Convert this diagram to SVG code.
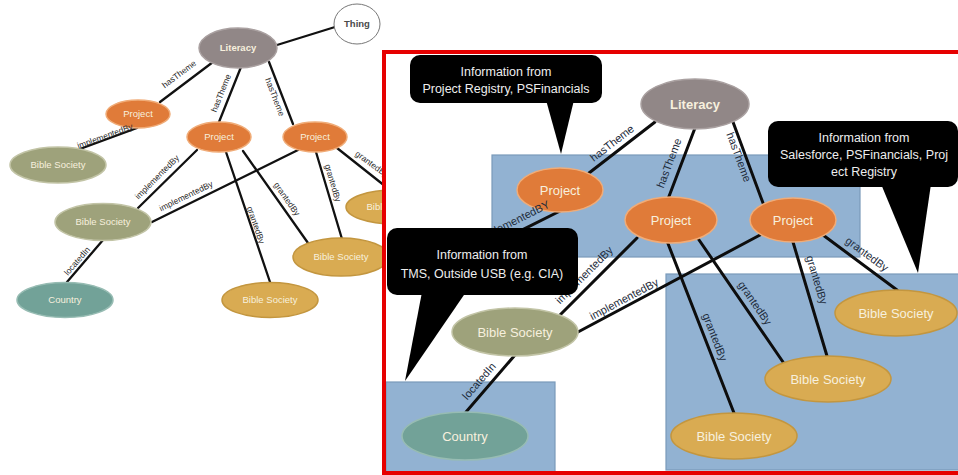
<svg xmlns="http://www.w3.org/2000/svg" width="958" height="475" viewBox="0 0 958 475">
<style>
.ls{stroke:#111;stroke-width:2.3;fill:none;stroke-linecap:round}
.lb{stroke:#0d0d0d;stroke-width:3;fill:none;stroke-linecap:round}
.proj{fill:#e07b39;stroke:#f0ac78;stroke-width:1.5}
.lit{fill:#918787;stroke:#aaa1a1;stroke-width:1.5}
.bsg{fill:#9ea27b;stroke:#c2c4a6;stroke-width:1.5}
.bsy{fill:#d9ab52;stroke:#c3963f;stroke-width:1.5}
.cty{fill:#72a298;stroke:#97bcb3;stroke-width:1.5}
.thing{fill:#fff;stroke:#777;stroke-width:1}
.nt{font-family:"Liberation Sans",Arial,sans-serif;fill:#f7f0de;text-anchor:middle}
.s{font-size:9.5px}
.b{font-size:13px}
.bold{font-weight:bold}
.el{font-family:"Liberation Sans",Arial,sans-serif;font-size:8.5px;fill:#2a2a2a;text-anchor:middle}
.er{font-family:"Liberation Sans",Arial,sans-serif;font-size:11px;fill:#1d2b3a;text-anchor:middle}
.box{fill:#92b2d2;stroke:#7a9aba;stroke-width:1.2}
.co{fill:#000}
.ct{font-family:"Liberation Sans",Arial,sans-serif;font-size:12.5px;fill:#eeeeee;text-anchor:middle}
</style>
<defs>
<clipPath id="clipA"><rect x="493" y="150" width="200" height="120"/></clipPath>
</defs>
<rect width="958" height="475" fill="#fff"/>

<g id="left-graph">
<g id="left-connectors">
<line class="ls" x1="277" y1="45" x2="335" y2="27"/>
<line class="ls" x1="213" y1="62" x2="160" y2="102"/>
<line class="ls" x1="241" y1="67" x2="219" y2="122"/>
<line class="ls" x1="269" y1="62" x2="293" y2="124"/>
<line class="ls" x1="137" y1="128" x2="80" y2="149"/>
<line class="ls" x1="197" y1="150" x2="138" y2="208"/>
<line class="ls" x1="298" y1="150" x2="152" y2="222"/>
<line class="ls" x1="226" y1="152" x2="270" y2="282"/>
<line class="ls" x1="243" y1="151" x2="308" y2="243"/>
<line class="ls" x1="316" y1="152" x2="342" y2="239"/>
<line class="ls" x1="337" y1="148" x2="390" y2="190"/>
<line class="ls" x1="103" y1="240" x2="67" y2="282"/>
</g>
<g id="l-thing"><ellipse class="thing" cx="357" cy="24" rx="23" ry="20"/><text class="nt s bold" x="357" y="24" dy="0.35em" style="fill:#4a4a4a">Thing</text></g>
<g id="l-literacy"><ellipse class="lit" cx="238" cy="48" rx="39" ry="20"/><text class="nt s bold" x="238" y="48" dy="0.35em">Literacy</text></g>
<g id="l-project1"><ellipse class="proj" cx="138" cy="114" rx="32" ry="14"/><text class="nt s" x="138" y="114" dy="0.35em">Project</text></g>
<g id="l-project2"><ellipse class="proj" cx="219" cy="137" rx="32" ry="15"/><text class="nt s" x="219" y="137" dy="0.35em">Project</text></g>
<g id="l-project3"><ellipse class="proj" cx="315" cy="137" rx="32" ry="15"/><text class="nt s" x="315" y="137" dy="0.35em">Project</text></g>
<g id="l-bs-top"><ellipse class="bsg" cx="58" cy="165" rx="48" ry="18"/><text class="nt s" x="58" y="165" dy="0.35em">Bible Society</text></g>
<g id="l-bs-mid"><ellipse class="bsg" cx="103" cy="222" rx="48" ry="18.5"/><text class="nt s" x="103" y="222" dy="0.35em">Bible Society</text></g>
<g id="l-country"><ellipse class="cty" cx="65" cy="300" rx="48" ry="17.5"/><text class="nt s" x="65" y="300" dy="0.35em">Country</text></g>
<g id="l-bs-yb"><ellipse class="bsy" cx="270" cy="300" rx="48" ry="17.5"/><text class="nt s" x="270" y="300" dy="0.35em">Bible Society</text></g>
<g id="l-bs-ym"><ellipse class="bsy" cx="341" cy="257" rx="48" ry="19"/><text class="nt s" x="341" y="257" dy="0.35em">Bible Society</text></g>
<g id="l-bs-yr"><ellipse class="bsy" cx="394" cy="207" rx="48" ry="17"/><text class="nt s" x="394" y="207" dy="0.35em">Bible Society</text></g>
<g id="left-edge-labels">
<text class="el" transform="translate(179,74) rotate(-37)" dy="0.35em">hasTheme</text>
<text class="el" transform="translate(221,93) rotate(-68)" dy="0.35em">hasTheme</text>
<text class="el" transform="translate(275,97) rotate(69)" dy="0.35em">hasTheme</text>
<text class="el" transform="translate(105,136) rotate(-20)" dy="0.35em">implementedBy</text>
<text class="el" transform="translate(157,177) rotate(-45)" dy="0.35em">implementedBy</text>
<text class="el" transform="translate(186,196) rotate(-26)" dy="0.35em">implementedBy</text>
<text class="el" transform="translate(256,225) rotate(71)" dy="0.35em">grantedBy</text>
<text class="el" transform="translate(287,199) rotate(55)" dy="0.35em">grantedBy</text>
<text class="el" transform="translate(333,183) rotate(73.5)" dy="0.35em">grantedBy</text>
<text class="el" transform="translate(372,164) rotate(36)" dy="0.35em">grantedBy</text>
<text class="el" transform="translate(77,261) rotate(-49.4)" dy="0.35em">locatedIn</text>
</g>
</g>

<g id="right-panel">
<rect x="384" y="52" width="600" height="421" fill="#fff"/>
<g id="source-areas">
<rect class="box" x="492" y="155" width="368" height="102"/>
<rect class="box" x="666" y="274" width="300" height="196"/>
<rect class="box" x="386" y="382" width="169" height="90"/>
</g>
<g id="right-connectors">
<line class="lb" x1="655" y1="122" x2="589" y2="173"/>
<line class="lb" x1="695" y1="128" x2="668" y2="199"/>
<line class="lb" x1="733" y1="122" x2="763" y2="203"/>
<line class="lb" x1="560" y1="211" x2="500" y2="241"/>
<line class="lb" x1="637" y1="238" x2="560" y2="315"/>
<line class="lb" x1="760" y1="235" x2="578" y2="332"/>
<line class="lb" x1="667" y1="241" x2="734" y2="413"/>
<line class="lb" x1="697" y1="237" x2="783" y2="362"/>
<line class="lb" x1="793" y1="242" x2="827" y2="356"/>
<line class="lb" x1="823" y1="235" x2="897" y2="290"/>
<line class="lb" x1="515" y1="355" x2="466" y2="412"/>
</g>
<g id="r-literacy"><ellipse class="lit" cx="695" cy="104" rx="54" ry="25"/><text class="nt b bold" x="695" y="104" dy="0.35em">Literacy</text></g>
<g id="r-project-a"><ellipse class="proj" cx="560" cy="190" rx="43" ry="22"/><text class="nt b" x="560" y="190" dy="0.35em">Project</text></g>
<g id="r-project-b"><ellipse class="proj" cx="671" cy="220" rx="46" ry="23"/><text class="nt b" x="671" y="220" dy="0.35em">Project</text></g>
<g id="r-project-c"><ellipse class="proj" cx="793" cy="220" rx="43" ry="22"/><text class="nt b" x="793" y="220" dy="0.35em">Project</text></g>
<g id="r-bs-green"><ellipse class="bsg" cx="515" cy="332" rx="63" ry="24"/><text class="nt b" x="515" y="332" dy="0.35em">Bible Society</text></g>
<g id="r-country"><ellipse class="cty" cx="465" cy="436" rx="63" ry="24"/><text class="nt b" x="465" y="436" dy="0.35em">Country</text></g>
<g id="r-bs-right"><ellipse class="bsy" cx="896" cy="313" rx="61" ry="23"/><text class="nt b" x="896" y="313" dy="0.35em">Bible Society</text></g>
<g id="r-bs-middle"><ellipse class="bsy" cx="828" cy="379" rx="63" ry="23"/><text class="nt b" x="828" y="379" dy="0.35em">Bible Society</text></g>
<g id="r-bs-bottom"><ellipse class="bsy" cx="734" cy="436" rx="63" ry="23"/><text class="nt b" x="734" y="436" dy="0.35em">Bible Society</text></g>
<g id="right-edge-labels">
<text class="er" transform="translate(612,143) rotate(-37.7)" dy="0.35em">hasTheme</text>
<text class="er" transform="translate(669,163) rotate(-69.4)" dy="0.35em">hasTheme</text>
<text class="er" transform="translate(739,157) rotate(69.7)" dy="0.35em">hasTheme</text>
<g clip-path="url(#clipA)"><text class="er" transform="translate(514,221) rotate(-26.6)" dy="0.35em">implementedBY</text></g>
<text class="er" transform="translate(584,275) rotate(-45)" dy="0.35em">implementedBy</text>
<text class="er" transform="translate(624,299) rotate(-28)" dy="0.35em">implementedBy</text>
<text class="er" transform="translate(715,337) rotate(68.7)" dy="0.35em">grantedBy</text>
<text class="er" transform="translate(755,303) rotate(55.5)" dy="0.35em">grantedBy</text>
<text class="er" transform="translate(817,280) rotate(73.3)" dy="0.35em">grantedBy</text>
<text class="er" transform="translate(867,254) rotate(36.6)" dy="0.35em">grantedBy</text>
<text class="er" transform="translate(479,381) rotate(-49.3)" dy="0.35em">locatedIn</text>
</g>
<g id="callout-project-registry">
<rect class="co" x="410" y="55" width="192" height="48" rx="10"/>
<polygon class="co" points="546,100 574,100 561,154"/>
<text class="ct" x="506" y="75.5">Information from</text>
<text class="ct" x="506" y="92.5">Project Registry, PSFinancials</text>
</g>
<g id="callout-salesforce">
<rect class="co" x="768" y="121" width="190" height="66" rx="10"/>
<polygon class="co" points="881,184 931,184 918,273"/>
<text class="ct" x="864" y="142">Information from</text>
<text class="ct" x="864" y="159">Salesforce, PSFinancials, Proj</text>
<text class="ct" x="864" y="176">ect Registry</text>
</g>
<g id="callout-tms">
<rect class="co" x="387" y="228" width="191" height="67" rx="10"/>
<polygon class="co" points="422,292 466,292 405,381"/>
<text class="ct" x="482" y="259">Information from</text>
<text class="ct" x="482" y="278">TMS, Outside USB (e.g. CIA)</text>
</g>
<rect x="384" y="52" width="600" height="421" fill="none" stroke="#e60000" stroke-width="4"/>
</g>
</svg>
